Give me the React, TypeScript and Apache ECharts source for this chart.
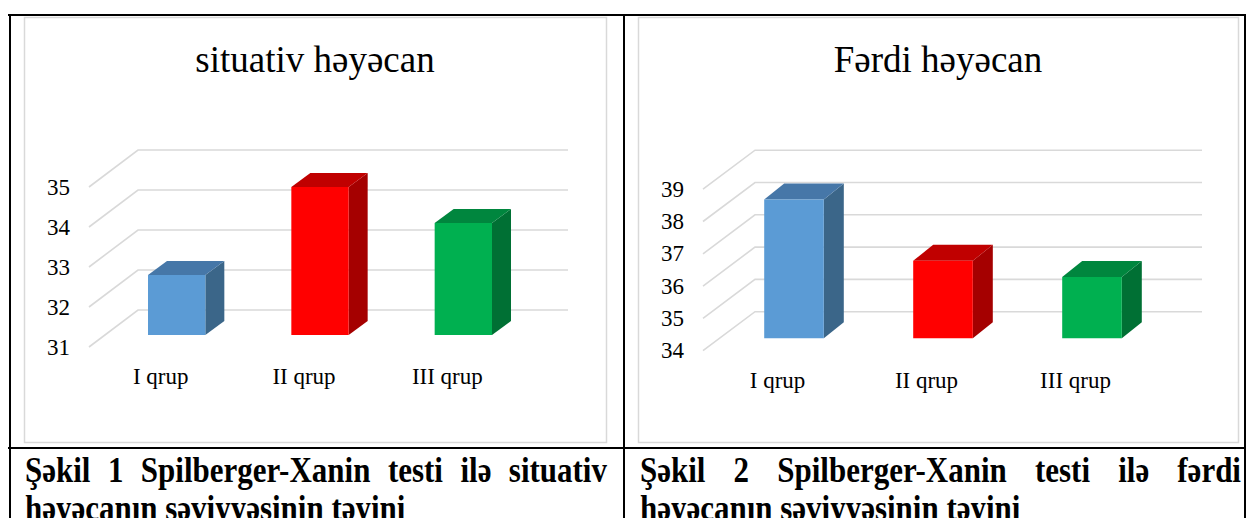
import React, { useEffect, useRef } from "react";
import * as echarts from "echarts";

// ---------- data ----------
const categories = ["I qrup", "II qrup", "III qrup"];
const situativValues = [32.5, 34.7, 33.8];
const ferdiValues = [38.3, 36.4, 35.9];
const situativTicks = [31, 32, 33, 34, 35];
const ferdiTicks = [34, 35, 36, 37, 38, 39];
const chartTitles = ["situativ həyəcan", "Fərdi həyəcan"];
const caption1Words = ["Şəkil", "1", "Spilberger-Xanin", "testi", "ilə", "situativ"];
const caption2Words = ["Şəkil", "2", "Spilberger-Xanin", "testi", "ilə", "fərdi"];
const captionLine2 = "həyəcanın səviyyəsinin təyini";

// ---------- styles ----------
const FONT = "'Liberation Serif', 'Times New Roman', serif";
const barColors = [
  { front: "#5B9BD5", side: "#3B6689", top: "#4677A8" },
  { front: "#FF0000", side: "#A50000", top: "#C00000" },
  { front: "#00B050", side: "#007034", top: "#00863E" },
];
const GRID_COLOR = "#D9D9D9";
const CAPTION_SIZE = 31;
const CAPTION_SCALE_Y = 1.15;

type Cfg = {
  left: number; top: number; width: number; height: number;
  front: { dx: number; dy: number };
  back: { dx: number; dy: number };
  bar3d: { dx: number; dy: number };
  ticks: number[]; values: number[]; titleX: number;
};

const charts: Cfg[] = [
  {
    left: 105, top: 175, width: 430, height: 160,
    front: { dx: -16, dy: 12 }, back: { dx: 33, dy: -25 }, bar3d: { dx: 19, dy: 14 },
    ticks: situativTicks, values: situativValues, titleX: 315,
  },
  {
    left: 719.5, top: 176.8, width: 447, height: 161.5,
    front: { dx: -16.5, dy: 12.4 }, back: { dx: 35.5, dy: -26.6 }, bar3d: { dx: 20, dy: 16 },
    ticks: ferdiTicks, values: ferdiValues, titleX: 938,
  },
];

function measure(text: string, font: string): number {
  const c = document.createElement("canvas");
  const ctx = c.getContext("2d")!;
  ctx.font = font;
  return ctx.measureText(text).width;
}

function captionText(text: string, x: number, y: number) {
  return {
    type: "text",
    x,
    y,
    scaleY: CAPTION_SCALE_Y,
    style: {
      text,
      fontSize: CAPTION_SIZE,
      fontWeight: "bold",
      fontFamily: FONT,
      fill: "#000",
      align: "left",
      verticalAlign: "middle",
      textAlign: "left",
      textVerticalAlign: "middle",
    },
  };
}

function justifiedWords(words: string[], x0: number, x1: number, y: number) {
  const font = `bold ${CAPTION_SIZE}px 'Liberation Serif', 'Times New Roman', serif`;
  const widths = words.map((w) => measure(w, font));
  const total = widths.reduce((a, b) => a + b, 0);
  const gap = (x1 - x0 - total) / (words.length - 1);
  let x = x0;
  return words.map((w, i) => {
    const el = captionText(w, x, y);
    x += widths[i] + gap;
    return el;
  });
}

export default function App() {
  const ref = useRef<HTMLDivElement>(null);

  useEffect(() => {
    if (!ref.current) return;
    const chart = echarts.init(ref.current, undefined, { renderer: "svg" });

    const grids: any[] = [];
    const xAxes: any[] = [];
    const yAxes: any[] = [];
    const series: any[] = [];

    charts.forEach((cfg, ci) => {
      const min = cfg.ticks[0];
      const max = cfg.ticks[cfg.ticks.length - 1];
      // bar plane grid
      grids.push({ left: cfg.left, top: cfg.top, width: cfg.width, height: cfg.height });
      // front plane grid (axis labels)
      grids.push({
        left: cfg.left + cfg.front.dx, top: cfg.top + cfg.front.dy,
        width: cfg.width, height: cfg.height,
      });
      const gBar = ci * 2;
      const gFront = ci * 2 + 1;
      xAxes.push({
        type: "category", gridIndex: gBar, data: categories, show: false,
      });
      yAxes.push({
        type: "value", gridIndex: gBar, min, max, interval: 1, show: false,
      });
      xAxes.push({
        type: "category", gridIndex: gFront, data: categories,
        axisLine: { show: false }, axisTick: { show: false }, splitLine: { show: false },
        axisLabel: { margin: 18, fontSize: 23, fontFamily: FONT, color: "#000" },
      });
      yAxes.push({
        type: "value", gridIndex: gFront, min, max, interval: 1,
        axisLine: { show: false }, axisTick: { show: false }, splitLine: { show: false },
        axisLabel: { margin: 19, fontSize: 23, fontFamily: FONT, color: "#000" },
      });

      // gridlines (front diagonal + back wall)
      series.push({
        type: "custom",
        xAxisIndex: gBar,
        yAxisIndex: gBar,
        data: cfg.ticks.map((v) => [0, v]),
        silent: true,
        z: 1,
        renderItem: (_p: any, api: any) => {
          const v = api.value(1);
          const c = api.coord([0, v]);
          const band = api.size([1, 0])[0];
          const left = c[0] - band / 2;
          const y = c[1];
          return {
            type: "polyline",
            shape: {
              points: [
                [left + cfg.front.dx, y + cfg.front.dy],
                [left + cfg.back.dx, y + cfg.back.dy],
                [left + band * categories.length + cfg.back.dx, y + cfg.back.dy],
              ],
            },
            style: { stroke: GRID_COLOR, lineWidth: 1.6, fill: null },
          };
        },
      });

      // 3D bars
      series.push({
        type: "custom",
        xAxisIndex: gBar,
        yAxisIndex: gBar,
        data: cfg.values.map((v, i) => [i, v]),
        z: 2,
        renderItem: (_p: any, api: any) => {
          const i = api.value(0);
          const v = api.value(1);
          const top = api.coord([i, v]);
          const base = api.coord([i, min]);
          const w = api.size([1, 0])[0] * 0.4;
          const x1 = top[0] - w / 2;
          const x2 = top[0] + w / 2;
          const yt = top[1];
          const yb = base[1];
          const { dx, dy } = cfg.bar3d;
          const col = barColors[i];
          return {
            type: "group",
            children: [
              {
                type: "polygon",
                shape: { points: [[x2, yt], [x2 + dx, yt - dy], [x2 + dx, yb - dy], [x2, yb]] },
                style: { fill: col.side },
              },
              {
                type: "polygon",
                shape: { points: [[x1, yt], [x1 + dx, yt - dy], [x2 + dx, yt - dy], [x2, yt]] },
                style: { fill: col.top },
              },
              {
                type: "rect",
                shape: { x: x1, y: yt, width: w, height: yb - yt },
                style: { fill: col.front },
              },
            ],
          };
        },
      });
    });

    const blackLine = (x1: number, y1: number, x2: number, y2: number) => ({
      type: "line",
      shape: { x1, y1, x2, y2 },
      style: { stroke: "#000", lineWidth: 2 },
      z: 10,
    });

    const graphic: any[] = [
      // chart frames
      { type: "rect", shape: { x: 24.5, y: 17.5, width: 582, height: 425 }, style: { fill: "#fff", stroke: GRID_COLOR, lineWidth: 1.5 }, z: -10 },
      { type: "rect", shape: { x: 638.5, y: 17.5, width: 600, height: 425 }, style: { fill: "#fff", stroke: GRID_COLOR, lineWidth: 1.5 }, z: -10 },
      // table borders
      blackLine(8, 15, 1246, 15),
      blackLine(10, 15, 10, 518),
      blackLine(624, 15, 624, 518),
      blackLine(1245, 15, 1245, 518),
      blackLine(8, 448, 1246, 448),
      // titles
      ...charts.map((cfg, i) => ({
        type: "text",
        x: cfg.titleX,
        y: 59,
        style: {
          text: chartTitles[i], fontSize: 37, fontFamily: FONT, fill: "#000",
          align: "center", verticalAlign: "middle", textAlign: "center", textVerticalAlign: "middle",
        },
      })),
      // captions
      ...justifiedWords(caption1Words, 25, 607, 470),
      ...justifiedWords(caption2Words, 640, 1241, 470),
      captionText(captionLine2, 25, 508),
      captionText(captionLine2, 640, 508),
    ];

    chart.setOption({
      animation: false,
      backgroundColor: "#fff",
      grid: grids,
      xAxis: xAxes,
      yAxis: yAxes,
      series,
      graphic,
    });

    return () => chart.dispose();
  }, []);

  return (
    <div
      ref={ref}
      style={{ position: "absolute", left: 0, top: 0, width: 1246, height: 518 }}
    />
  );
}
